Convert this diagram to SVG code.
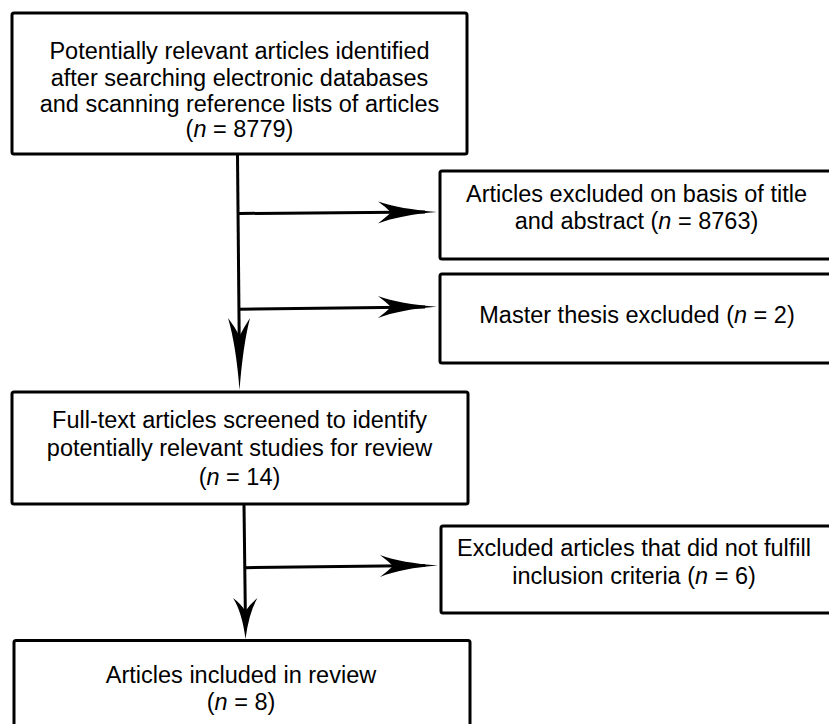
<svg xmlns="http://www.w3.org/2000/svg" width="829" height="724" viewBox="0 0 829 724">
<style>
.box{fill:#fff;stroke:#000;stroke-width:3}
.t{font-family:"Liberation Sans",Arial,sans-serif;font-size:23.5px;fill:#000;text-anchor:middle}
.i{font-style:italic}
.ln{stroke:#000;stroke-width:3;fill:none}
.ah{fill:#000;stroke:none}
</style>
<rect width="829" height="724" fill="#fff"/>
<g id="connectors">
<line class="ln" x1="237.5" y1="155" x2="239.5" y2="370"/>
<path class="ah" d="M239.5,390 Q236,345 228,318 Q235,327 239.5,336 Q244,327 250,318 Q243,345 239.5,390 Z"/>
<line class="ln" x1="239" y1="213.5" x2="425" y2="212"/>
<path class="ah" d="M437,212 Q400,215 378,223.5 Q386,217 391,212.5 Q386,207 378,201.5 Q400,209 437,212 Z"/>
<line class="ln" x1="239" y1="309.3" x2="425" y2="307"/>
<path class="ah" d="M437,306.8 Q400,309.5 378,318 Q386,312 391,307 Q386,302 378,296 Q400,304 437,306.8 Z"/>
<line class="ln" x1="244" y1="505" x2="245.5" y2="625"/>
<path class="ah" d="M245.5,639 Q242,612 233,598 Q240,603 245.5,611 Q251,603 257.5,598 Q249,612 245.5,639 Z"/>
<line class="ln" x1="245" y1="567.7" x2="425" y2="565.5"/>
<path class="ah" d="M438,565.5 Q402,568 380,577 Q388,571 393,566 Q388,561 380,555 Q402,563 438,565.5 Z"/>
</g>
<g id="n1">
<rect class="box" x="12" y="13" width="455" height="141" rx="2"/>
<text class="t" x="239.5" y="59">Potentially relevant articles identified</text>
<text class="t" x="239.5" y="85.5">after searching electronic databases</text>
<text class="t" x="239.5" y="112">and scanning reference lists of articles</text>
<text class="t" x="239.5" y="137"><tspan>(</tspan><tspan class="i">n</tspan><tspan> = 8779)</tspan></text>
</g>
<g id="n2">
<rect class="box" x="440" y="171" width="400" height="88" rx="2"/>
<text class="t" x="636.5" y="202">Articles excluded on basis of title</text>
<text class="t" x="636.5" y="228.5">and abstract (<tspan class="i">n</tspan> = 8763)</text>
</g>
<g id="n3">
<rect class="box" x="440" y="274" width="400" height="89" rx="2"/>
<text class="t" x="637" y="323">Master thesis excluded (<tspan class="i">n</tspan> = 2)</text>
</g>
<g id="n4">
<rect class="box" x="12" y="392" width="456" height="112" rx="2"/>
<text class="t" x="239.5" y="428">Full-text articles screened to identify</text>
<text class="t" x="239.5" y="456">potentially relevant studies for review</text>
<text class="t" x="239.5" y="485">(<tspan class="i">n</tspan> = 14)</text>
</g>
<g id="n5">
<rect class="box" x="441" y="526" width="400" height="87" rx="2"/>
<text class="t" x="634" y="556">Excluded articles that did not fulfill</text>
<text class="t" x="634" y="583.5">inclusion criteria (<tspan class="i">n</tspan> = 6)</text>
</g>
<g id="n6">
<rect class="box" x="14" y="640.5" width="456" height="110" rx="2"/>
<text class="t" x="241" y="683">Articles included in review</text>
<text class="t" x="241" y="710">(<tspan class="i">n</tspan> = 8)</text>
</g>
</svg>
